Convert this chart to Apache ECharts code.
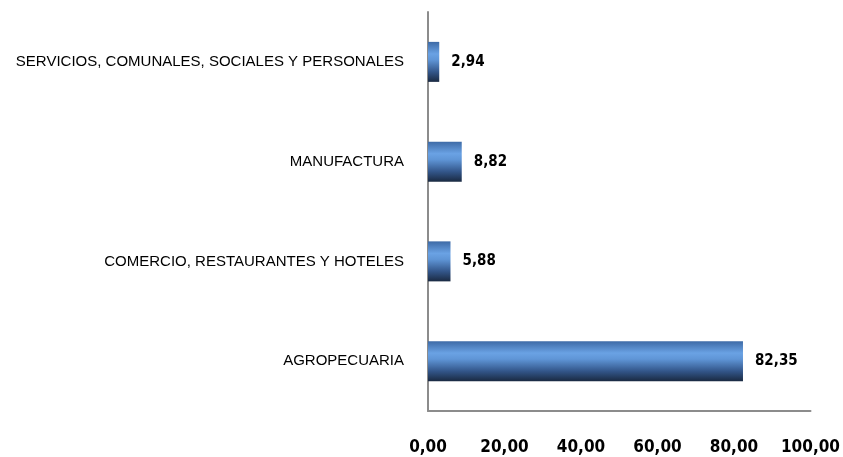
<!DOCTYPE html>
<html><head><meta charset="utf-8">
<script src="https://cdn.jsdelivr.net/npm/echarts@6/dist/echarts.min.js"></script>
<style>html,body{margin:0;padding:0;background:#fff}#c{width:843px;height:457px}</style>
</head><body><div id="c"></div>
<script>
var categories = ['AGROPECUARIA', 'COMERCIO, RESTAURANTES Y HOTELES', 'MANUFACTURA', 'SERVICIOS, COMUNALES, SOCIALES Y PERSONALES'];
var values = [82.35, 5.88, 8.82, 2.94];
var xTicks = [0, 20, 40, 60, 80, 100];

function fmt(v){ return v.toFixed(2).replace('.', ','); }

var chart = echarts.init(document.getElementById('c'));
chart.setOption({
  animation: false,
  grid: { left: 428, right: 32, top: 12, bottom: 46 },
  xAxis: {
    type: 'value', min: xTicks[0], max: xTicks[xTicks.length-1], interval: 20,
    axisLine: { show: true, lineStyle: { color: '#8c8c8c', width: 2 } },
    axisTick: { show: false },
    splitLine: { show: false },
    axisLabel: { formatter: fmt, color: '#000', fontWeight: 'bold', fontSize: 17, margin: 28, fontFamily: 'DejaVu Sans Condensed, Liberation Sans' }
  },
  yAxis: {
    type: 'category', data: categories,
    axisLine: { show: true, lineStyle: { color: '#8c8c8c', width: 2 } },
    axisTick: { show: false },
    axisLabel: { color: '#000', fontSize: 15, margin: 24, fontFamily: 'Liberation Sans' }
  },
  series: [{
    type: 'bar', data: values, barWidth: 40,
    itemStyle: {
      color: new echarts.graphic.LinearGradient(0, 0, 0, 1, [
        { offset: 0, color: '#3d6aa6' },
        { offset: 0.3, color: '#6aa2e4' },
        { offset: 0.45, color: '#5f95d6' },
        { offset: 0.75, color: '#33568a' },
        { offset: 1, color: '#1a2a42' }
      ])
    },
    label: { show: true, position: 'right', distance: 12, formatter: function(p){ return fmt(p.value); }, color: '#000', fontWeight: 'bold', fontSize: 15, fontFamily: 'DejaVu Sans Condensed, Liberation Sans' }
  }]
});
</script></body></html>
